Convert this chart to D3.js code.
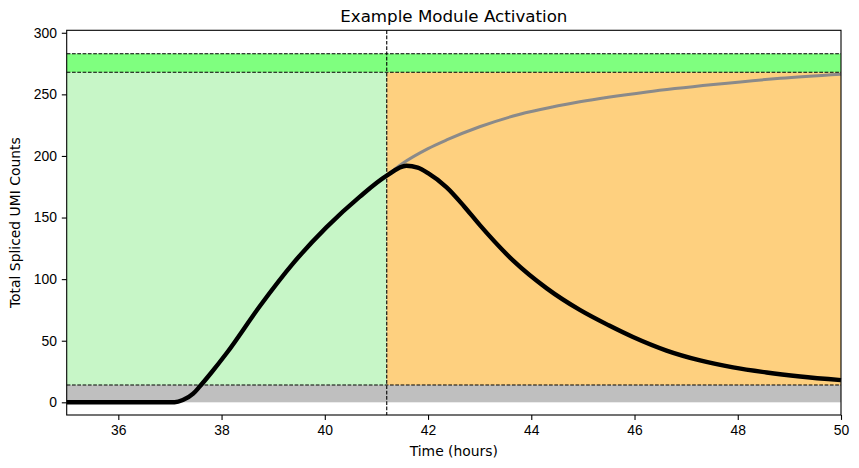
<!DOCTYPE html>
<html lang="en">
<head>
<meta charset="UTF-8">
<title>Example Module Activation</title>
<style>
  body { margin: 0; background: #fff; }
  svg { display: block; font-family: "DejaVu Sans", sans-serif; }
  .tick text { font-size: 13.9px; fill: #000; }
  .tick line { stroke: #000; stroke-width: 1.1px; }
  .domain { display: none; }
</style>
</head>
<body>
<svg id="chart" width="859" height="468"></svg>
<script src="https://d3js.org/d3.v7.min.js"></script>
<script>
// observed spliced counts (black) and the counterfactual continuation (gray)
const activeTime = [35.0, 36.0, 37.0, 37.09, 37.25, 37.45, 37.58, 37.8, 38.1, 38.74, 39.39, 40.03, 40.68, 41.2,
                    41.58, 41.8, 42.0, 42.36, 42.7, 43.0, 43.65, 44.3, 44.94, 45.5, 45.97, 46.62, 47.27, 47.91, 48.56, 49.21, 50.0];
const activeCounts = [0, 0, 0, 0, 1.8, 7, 13, 24, 40, 78, 113, 142, 167, 184,
                      192, 190.5, 186, 174.5, 159, 144, 115, 92.5, 75, 62.5, 53, 42, 34, 28.3, 24.2, 21, 18];

const steadyTime = [41.2, 41.49, 42.0, 42.36, 43.0, 43.65, 44.94, 46.24, 47.53, 48.82, 50.0];
const steadyCounts = [184, 193.5, 206, 213, 223.7, 232.4, 244, 252, 258, 263, 266.3];

// thresholds / switch time
const lowThreshold = 14;
const highThreshold = 268;
const bandTop = 283;
const switchTime = 41.2;

const xTicks = [36, 38, 40, 42, 44, 46, 48, 50];
const yTicks = [0, 50, 100, 150, 200, 250, 300];

const svg = d3.select("#chart");
const plotLeft = 66.7, plotRight = 841, plotTop = 30.3, plotBottom = 415;

const x = d3.scaleLinear().domain([35, 50]).range([plotLeft, plotRight]);
const y = d3.scaleLinear().domain([-10.3, 302]).range([plotBottom, plotTop]);

// shaded regions
const regions = [
  {x0: 35, x1: 50, y0: 0, y1: lowThreshold, fill: "#bfbfbf"},
  {x0: 35, x1: switchTime, y0: lowThreshold, y1: highThreshold, fill: "#c7f6c7"},
  {x0: switchTime, x1: 50, y0: lowThreshold, y1: highThreshold, fill: "#fed07f"},
  {x0: 35, x1: 50, y0: highThreshold, y1: bandTop, fill: "#7fff7f"}
];
svg.append("g").selectAll("rect")
  .data(regions)
  .enter().append("rect")
  .attr("x", d => x(d.x0))
  .attr("width", d => x(d.x1) - x(d.x0))
  .attr("y", d => y(d.y1))
  .attr("height", d => y(d.y0) - y(d.y1))
  .attr("fill", d => d.fill);

const line = d3.line()
  .x(d => x(d[0]))
  .y(d => y(d[1]))
  .curve(d3.curveMonotoneX);

svg.append("path")
  .datum(steadyTime.map((t, i) => [t, steadyCounts[i]]))
  .attr("d", line)
  .attr("fill", "none")
  .attr("stroke", "#8a8a8a")
  .attr("stroke-width", 3);

svg.append("path")
  .datum(activeTime.map((t, i) => [t, activeCounts[i]]))
  .attr("d", line)
  .attr("fill", "none")
  .attr("stroke", "#000")
  .attr("stroke-width", 4.4)
  .attr("stroke-linejoin", "round");

// dashed guide lines
const dash = "3.7,1.6";
svg.append("g").selectAll("line")
  .data([lowThreshold, highThreshold, bandTop])
  .enter().append("line")
  .attr("x1", plotLeft).attr("x2", plotRight)
  .attr("y1", d => y(d)).attr("y2", d => y(d))
  .attr("stroke", "#000").attr("stroke-width", 1.1)
  .attr("stroke-dasharray", dash);

svg.append("line")
  .attr("x1", x(switchTime)).attr("x2", x(switchTime))
  .attr("y1", plotTop).attr("y2", plotBottom)
  .attr("stroke", "#000").attr("stroke-width", 1.1)
  .attr("stroke-dasharray", dash);

// frame
svg.append("rect")
  .attr("x", plotLeft).attr("y", plotTop)
  .attr("width", plotRight - plotLeft).attr("height", plotBottom - plotTop)
  .attr("fill", "none").attr("stroke", "#000").attr("stroke-width", 1.1);

// axes
svg.append("g")
  .attr("transform", `translate(0,${plotBottom})`)
  .call(d3.axisBottom(x).tickValues(xTicks).tickSize(4.9).tickPadding(4.9).tickFormat(d3.format("d")));

svg.append("g")
  .attr("transform", `translate(${plotLeft},0)`)
  .call(d3.axisLeft(y).tickValues(yTicks).tickSize(4.9).tickPadding(4.9).tickFormat(d3.format("d")));

// labels
svg.append("text")
  .attr("x", (plotLeft + plotRight) / 2).attr("y", 22)
  .attr("text-anchor", "middle")
  .attr("font-size", "16.7px")
  .text("Example Module Activation");

svg.append("text")
  .attr("x", (plotLeft + plotRight) / 2).attr("y", 456)
  .attr("text-anchor", "middle")
  .attr("font-size", "13.9px")
  .text("Time (hours)");

svg.append("text")
  .attr("transform", `translate(20,${(plotTop + plotBottom) / 2}) rotate(-90)`)
  .attr("text-anchor", "middle")
  .attr("font-size", "13.9px")
  .text("Total Spliced UMI Counts");
</script>
</body>
</html>
